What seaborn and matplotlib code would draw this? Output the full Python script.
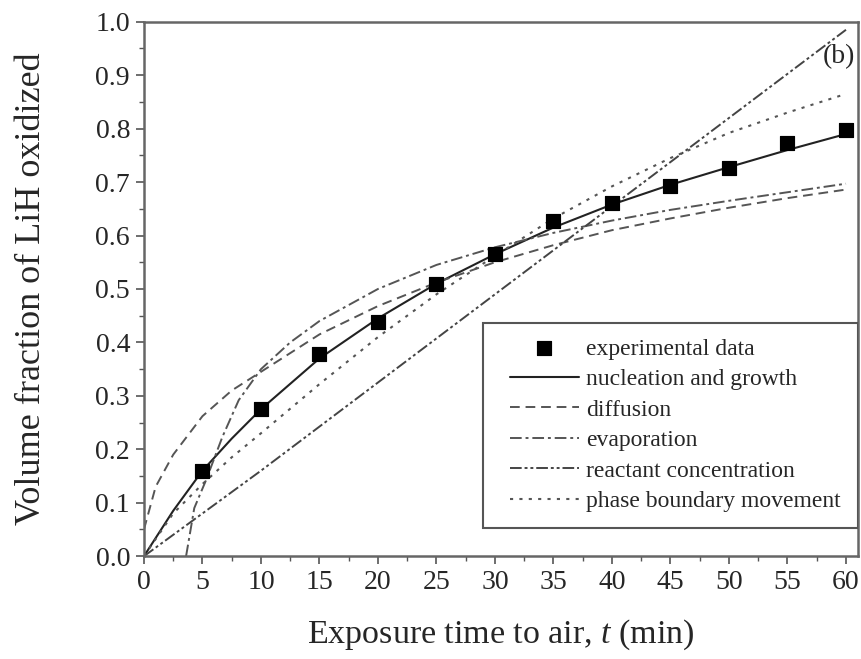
import matplotlib
matplotlib.use("Agg")
import matplotlib.pyplot as plt
import seaborn as sns
import numpy as np
from matplotlib.ticker import MultipleLocator
from matplotlib.patches import Rectangle

# Experimental data
t_exp = [5, 10, 15, 20, 25, 30, 35, 40, 45, 50, 55, 60]
y_exp = [0.160, 0.275, 0.378, 0.438, 0.510, 0.565, 0.627, 0.660, 0.692, 0.726, 0.773, 0.798]

# Model curves
t_nuc = [0, 2.5, 5, 7.5, 10, 15, 20, 25, 30, 35, 40, 45, 50, 55, 60]
y_nuc = [0.0, 0.085, 0.160, 0.220, 0.275, 0.370, 0.445, 0.510, 0.565, 0.615, 0.658, 0.695, 0.728, 0.760, 0.790]

t_dif = [0, 1, 2.5, 5, 7.5, 10, 15, 20, 25, 30, 35, 40, 45, 50, 55, 60]
y_dif = [0.050, 0.130, 0.190, 0.262, 0.310, 0.345, 0.415, 0.468, 0.512, 0.550, 0.582, 0.610, 0.632, 0.652, 0.670, 0.686]

t_eva = [3.6, 4.3, 5.3, 6.7, 8.1, 10, 12.5, 15, 20, 25, 30, 35, 40, 45, 50, 55, 60]
y_eva = [0.0, 0.090, 0.142, 0.223, 0.292, 0.350, 0.400, 0.440, 0.500, 0.545, 0.578, 0.605, 0.628, 0.648, 0.665, 0.681, 0.697]

t_rea = [0, 10, 20, 30, 40, 50, 60]
y_rea = [0.0, 0.160, 0.325, 0.490, 0.655, 0.820, 0.985]

t_pha = [0, 2.5, 5, 7.5, 10, 15, 20, 25, 30, 35, 40, 45, 50, 55, 60]
y_pha = [0.0, 0.080, 0.135, 0.185, 0.230, 0.322, 0.410, 0.490, 0.562, 0.632, 0.692, 0.745, 0.792, 0.830, 0.865]

labels = ["experimental data", "nucleation and growth", "diffusion",
          "evaporation", "reactant concentration", "phase boundary movement"]

sns.set_style("ticks")
plt.rcParams['font.family'] = ['Liberation Serif', 'DejaVu Serif']
plt.rcParams['mathtext.fontset'] = 'custom'
plt.rcParams['mathtext.it'] = 'Liberation Serif:italic'
plt.rcParams['mathtext.rm'] = 'Liberation Serif'

fig = plt.figure(figsize=(8.62, 6.59), dpi=100)
ax = fig.add_axes([0.167, 0.156, 0.828, 0.811])

sns.lineplot(x=t_nuc, y=y_nuc, ax=ax, color="#222222", lw=1.5, label=labels[1])
sns.lineplot(x=t_dif, y=y_dif, ax=ax, color="#555555", lw=1.4, label=labels[2])
sns.lineplot(x=t_eva, y=y_eva, ax=ax, color="#555555", lw=1.4, label=labels[3])
sns.lineplot(x=t_rea, y=y_rea, ax=ax, color="#444444", lw=1.4, label=labels[4])
sns.lineplot(x=t_pha, y=y_pha, ax=ax, color="#555555", lw=1.5, label=labels[5])
sns.scatterplot(x=t_exp, y=y_exp, ax=ax, marker="s", s=110, color="black",
                edgecolor="black", zorder=5, label=labels[0])

lines = ax.get_lines()
lines[1].set_dashes([5, 3])
lines[2].set_dashes([6, 2, 1.5, 2])
lines[3].set_dashes([6, 1.5, 1.5, 1.5, 1.5, 1.5])
lines[4].set_dashes([1.5, 3])

ax.set_xlim(0, 61)
ax.set_ylim(0, 1.0)
ax.xaxis.set_major_locator(MultipleLocator(5))
ax.xaxis.set_minor_locator(MultipleLocator(2.5))
ax.yaxis.set_major_locator(MultipleLocator(0.1))
ax.yaxis.set_minor_locator(MultipleLocator(0.05))
ax.yaxis.set_major_formatter(matplotlib.ticker.FormatStrFormatter('%.1f'))
ax.tick_params(which='major', direction='out', length=6, width=1.2, labelsize=20,
               color="#555555", pad=4)
ax.tick_params(which='minor', direction='out', length=3.5, width=1.0, color="#555555")
ax.tick_params(top=False, right=False)
for sp in ax.spines.values():
    sp.set_color("#666666")
    sp.set_linewidth(1.8)

ax.set_xlabel(r"Exposure time to air, $t$ (min)", fontsize=24.5, labelpad=16)
ax.set_ylabel("Volume fraction of LiH oxidized", fontsize=26, labelpad=34)
ax.text(58.0, 0.922, "(b)", fontsize=20)

# legend frame
frame = Rectangle((0.475, 0.052), 0.525, 0.384, transform=ax.transAxes,
                  facecolor="white", edgecolor="#555555", lw=1.5, zorder=6)
ax.add_patch(frame)

handles, labs = ax.get_legend_handles_labels()
order = [labs.index(l) for l in labels]
leg = ax.legend([handles[i] for i in order], [labs[i] for i in order],
                loc="upper left", bbox_to_anchor=(0.513, 0.408), fontsize=17,
                frameon=False, handlelength=2.9, handletextpad=0.3,
                labelspacing=0.38, borderpad=0, borderaxespad=0)
leg.set_zorder(7)

fig.savefig("out.png", dpi=100)
